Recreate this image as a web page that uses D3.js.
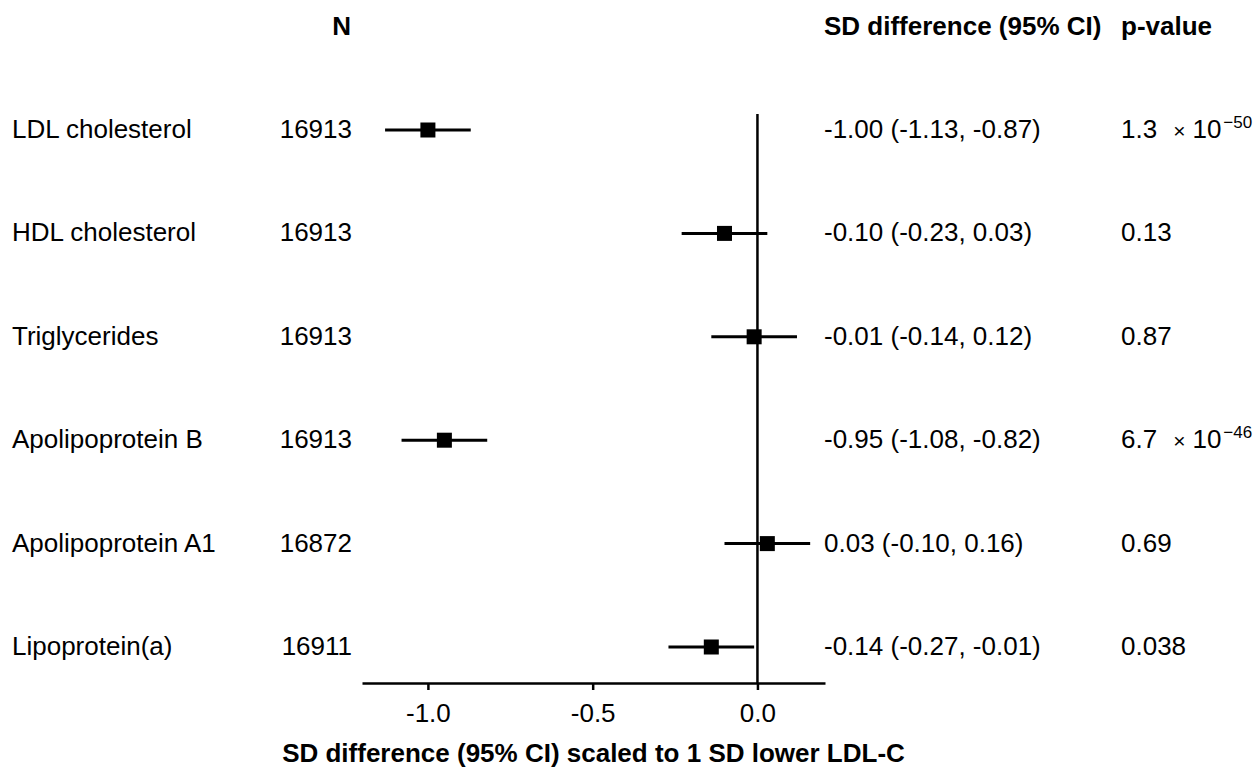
<!DOCTYPE html>
<html>
<head>
<meta charset="utf-8">
<script src="https://cdn.jsdelivr.net/npm/d3@7"></script>
<style>
  body { margin: 0; background: #fff; }
  svg { font-family: "Liberation Sans", Arial, sans-serif; }
  .axis path, .axis line { stroke: #000; stroke-width: 2.5; }
  .axis text { font-size: 26px; fill: #000; font-family: "Liberation Sans", Arial, sans-serif; }
</style>
</head>
<body>
<svg id="chart" width="1258" height="767"></svg>
<script>
var labels = ["LDL cholesterol", "HDL cholesterol", "Triglycerides", "Apolipoprotein B", "Apolipoprotein A1", "Lipoprotein(a)"];
var counts = ["16913", "16913", "16913", "16913", "16872", "16911"];
var estimates = [-1.00, -0.10, -0.01, -0.95, 0.03, -0.14];
var lower = [-1.13, -0.23, -0.14, -1.08, -0.10, -0.27];
var upper = [-0.87, 0.03, 0.12, -0.82, 0.16, -0.01];
var ciText = ["-1.00 (-1.13, -0.87)", "-0.10 (-0.23, 0.03)", "-0.01 (-0.14, 0.12)", "-0.95 (-1.08, -0.82)", "0.03 (-0.10, 0.16)", "-0.14 (-0.27, -0.01)"];
var pMantissa = ["1.3", "0.13", "0.87", "6.7", "0.69", "0.038"];
var pExponent = ["\u221250", null, null, "\u221246", null, null];
var xTicks = [-1.0, -0.5, 0.0];
var xTickLabels = ["-1.0", "-0.5", "0.0"];

var svg = d3.select("#chart");
var fs = 26;

var x = d3.scaleLinear().domain([-1.2, 0.205]).range([362, 825]);
var y = d3.scalePoint().domain(labels).range([130, 647]);
var axisY = 683;

var rows = labels.map(function(l, i) {
    return {label: l, n: counts[i], est: estimates[i], lo: lower[i], hi: upper[i],
            ci: ciText[i], p: pMantissa[i], exp: pExponent[i]};
});

// headers
var head = svg.append("g").attr("font-weight", "bold").attr("font-size", fs);
head.append("text").attr("x", 351).attr("y", 35).attr("text-anchor", "end").text("N");
head.append("text").attr("x", 824).attr("y", 35).text("SD difference (95% CI)");
head.append("text").attr("x", 1121).attr("y", 35).text("p-value");

// zero line
svg.append("line")
    .attr("x1", x(0)).attr("x2", x(0))
    .attr("y1", 114).attr("y2", axisY)
    .attr("stroke", "#000").attr("stroke-width", 2.5);

// x axis
svg.append("g")
    .attr("class", "axis")
    .attr("transform", "translate(0," + axisY + ")")
    .call(d3.axisBottom(x).tickValues(xTicks)
        .tickFormat(function(d, i) { return xTickLabels[i]; })
        .tickSize(7).tickSizeOuter(0).tickPadding(14))
    .call(function(g) { g.selectAll("text").attr("dy", "0.71em"); });

var xr = x.range();
svg.append("text")
    .attr("x", (xr[0] + xr[1]) / 2).attr("y", 762)
    .attr("text-anchor", "middle")
    .attr("font-weight", "bold").attr("font-size", fs)
    .text("SD difference (95% CI) scaled to 1 SD lower LDL-C");

var row = svg.selectAll(".row").data(rows).enter().append("g")
    .attr("class", "row")
    .attr("transform", function(d) { return "translate(0," + y(d.label) + ")"; });

row.append("text").attr("x", 12).attr("y", 8).attr("font-size", fs).text(function(d) { return d.label; });
row.append("text").attr("x", 352).attr("y", 8).attr("font-size", fs).attr("text-anchor", "end").text(function(d) { return d.n; });

row.append("line")
    .attr("x1", function(d) { return x(d.lo); })
    .attr("x2", function(d) { return x(d.hi); })
    .attr("stroke", "#000").attr("stroke-width", 3);

row.append("rect")
    .attr("x", function(d) { return x(d.est) - 7.5; })
    .attr("y", -7.5).attr("width", 15).attr("height", 15)
    .attr("fill", "#000");

row.append("text").attr("x", 824).attr("y", 8).attr("font-size", fs).text(function(d) { return d.ci; });

var pt = row.append("text").attr("x", 1121).attr("y", 8).attr("font-size", fs);
pt.append("tspan").text(function(d) { return d.p; });
pt.filter(function(d) { return d.exp; }).each(function(d) {
    var t = d3.select(this);
    t.append("tspan").attr("font-size", 21).attr("dx", 16).text("\u00d7");
    t.append("tspan").attr("dx", 7).text("10");
    t.append("tspan").attr("font-size", 17).attr("dy", -10).attr("dx", 2).text(d.exp);
});
</script>
</body>
</html>
